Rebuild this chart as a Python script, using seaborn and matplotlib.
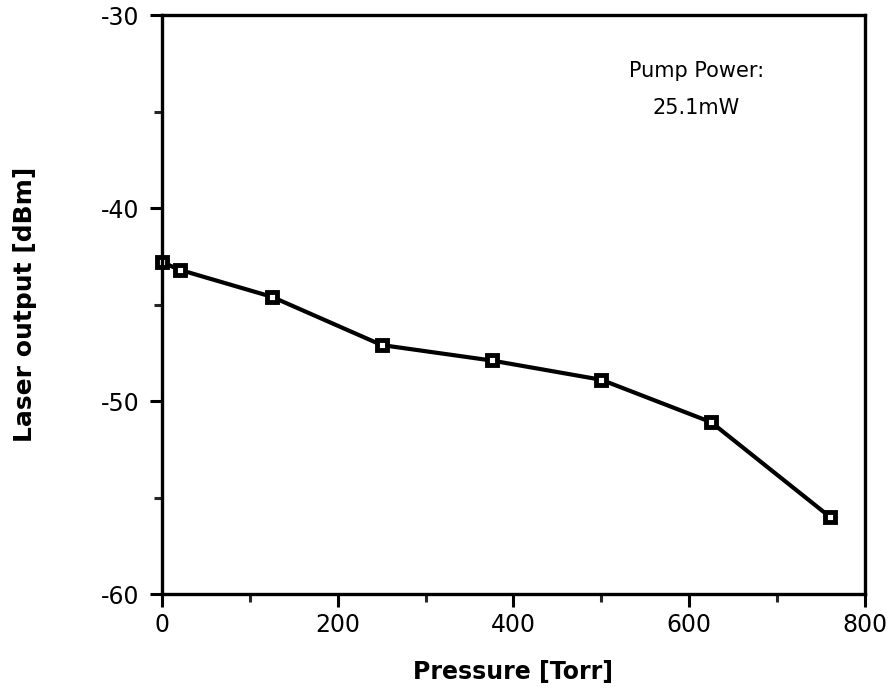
import matplotlib
matplotlib.use("Agg")
import matplotlib.pyplot as plt
import seaborn as sns
import pandas as pd
from matplotlib.ticker import MultipleLocator

pressure = [0, 20, 125, 250, 375, 500, 625, 760]
laser_output = [-42.8, -43.2, -44.6, -47.1, -47.9, -48.9, -51.1, -56.0]
x_ticks = [0, 200, 400, 600, 800]
y_ticks = [-60, -50, -40, -30]

df = pd.DataFrame({"Pressure": pressure, "Laser": laser_output})

sns.set_style("ticks")
plt.rcParams['font.family'] = ['DejaVu Sans']
plt.rcParams['text.color'] = 'black'
plt.rcParams['axes.labelcolor'] = 'black'

fig = plt.figure(figsize=(8.93, 6.92), dpi=100)
ax = fig.add_axes([0.1814, 0.1416, 0.7872, 0.8367])

sns.lineplot(data=df, x="Pressure", y="Laser", ax=ax, color="black", lw=3,
             marker="s", markersize=6.5, markerfacecolor="white",
             markeredgecolor="black", markeredgewidth=3.5, clip_on=False)

ax.set_xlim(0, 800)
ax.set_ylim(-60, -30)
ax.set_xticks(x_ticks)
ax.set_yticks(y_ticks)
ax.set_xticklabels([str(v) for v in x_ticks])
ax.set_yticklabels([str(v) for v in y_ticks])
ax.xaxis.set_minor_locator(MultipleLocator(100))
ax.yaxis.set_minor_locator(MultipleLocator(5))
ax.tick_params(axis="both", which="major", direction="out", length=9, width=2.2,
               labelsize=17, color="black", labelcolor="black")
ax.tick_params(axis="y", which="major", pad=7)
ax.tick_params(axis="x", which="major", pad=5)
ax.tick_params(axis="both", which="minor", direction="out", length=6, width=2.2)

for s in ax.spines.values():
    s.set_visible(True)
    s.set_linewidth(2.4)
    s.set_color("black")

ax.set_xlabel("Pressure [Torr]", fontsize=17, fontweight="bold", labelpad=16)
ax.set_ylabel("Laser output [dBm]", fontsize=18, fontweight="bold", labelpad=46)

ax.text(608, -32.9, "Pump Power:", ha="center", va="center", fontsize=15)
ax.text(608, -34.8, "25.1mW", ha="center", va="center", fontsize=15)

fig.savefig("out.png", dpi=100)
